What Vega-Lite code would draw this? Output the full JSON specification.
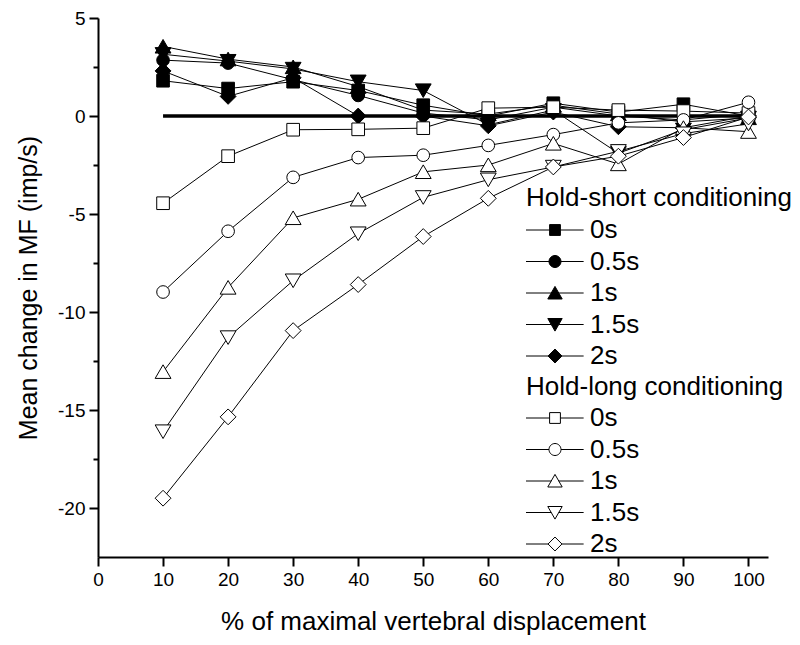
{
  "$schema": "https://vega.github.io/schema/vega-lite/v6.json",
  "width": 670,
  "height": 539,
  "autosize": {"type": "none"},
  "padding": {"left": 98, "top": 18, "right": 32, "bottom": 88},
  "background": "white",
  "config": {
    "view": {"stroke": null},
    "font": "Liberation Sans",
    "axis": {
      "domainColor": "black", "domainWidth": 2, "tickColor": "black", "tickWidth": 2,
      "labelColor": "black", "titleColor": "black", "titleFontWeight": "normal",
      "grid": false, "labelFont": "Liberation Sans", "titleFont": "Liberation Sans"
    },
    "legend": {
      "titleFont": "Liberation Sans", "labelFont": "Liberation Sans",
      "titleFontWeight": "normal", "titleColor": "black", "labelColor": "black",
      "titleFontSize": 26, "labelFontSize": 26, "padding": 0,
      "titleLimit": 500, "labelLimit": 300
    }
  },
  "datasets": {
    "series": [
      {"cond": "Hold-short", "dur": "0s", "x": 10, "y": 1.8},
      {"cond": "Hold-short", "dur": "0s", "x": 20, "y": 1.4},
      {"cond": "Hold-short", "dur": "0s", "x": 30, "y": 1.75},
      {"cond": "Hold-short", "dur": "0s", "x": 40, "y": 1.3},
      {"cond": "Hold-short", "dur": "0s", "x": 50, "y": 0.55},
      {"cond": "Hold-short", "dur": "0s", "x": 60, "y": 0.0},
      {"cond": "Hold-short", "dur": "0s", "x": 70, "y": 0.65},
      {"cond": "Hold-short", "dur": "0s", "x": 80, "y": 0.2},
      {"cond": "Hold-short", "dur": "0s", "x": 90, "y": 0.6},
      {"cond": "Hold-short", "dur": "0s", "x": 100, "y": 0.0},
      {"cond": "Hold-short", "dur": "0.5s", "x": 10, "y": 2.85},
      {"cond": "Hold-short", "dur": "0.5s", "x": 20, "y": 2.7},
      {"cond": "Hold-short", "dur": "0.5s", "x": 30, "y": 1.85},
      {"cond": "Hold-short", "dur": "0.5s", "x": 40, "y": 1.05},
      {"cond": "Hold-short", "dur": "0.5s", "x": 50, "y": 0.15},
      {"cond": "Hold-short", "dur": "0.5s", "x": 60, "y": -0.2},
      {"cond": "Hold-short", "dur": "0.5s", "x": 70, "y": 0.45},
      {"cond": "Hold-short", "dur": "0.5s", "x": 80, "y": 0.0},
      {"cond": "Hold-short", "dur": "0.5s", "x": 90, "y": -0.2},
      {"cond": "Hold-short", "dur": "0.5s", "x": 100, "y": 0.1},
      {"cond": "Hold-short", "dur": "1s", "x": 10, "y": 3.55},
      {"cond": "Hold-short", "dur": "1s", "x": 20, "y": 2.9},
      {"cond": "Hold-short", "dur": "1s", "x": 30, "y": 2.5},
      {"cond": "Hold-short", "dur": "1s", "x": 40, "y": 1.5},
      {"cond": "Hold-short", "dur": "1s", "x": 50, "y": 0.3},
      {"cond": "Hold-short", "dur": "1s", "x": 60, "y": 0.1},
      {"cond": "Hold-short", "dur": "1s", "x": 70, "y": 0.55},
      {"cond": "Hold-short", "dur": "1s", "x": 80, "y": 0.1},
      {"cond": "Hold-short", "dur": "1s", "x": 90, "y": -0.3},
      {"cond": "Hold-short", "dur": "1s", "x": 100, "y": -0.1},
      {"cond": "Hold-short", "dur": "1.5s", "x": 10, "y": 3.15},
      {"cond": "Hold-short", "dur": "1.5s", "x": 20, "y": 2.8},
      {"cond": "Hold-short", "dur": "1.5s", "x": 30, "y": 2.4},
      {"cond": "Hold-short", "dur": "1.5s", "x": 40, "y": 1.75},
      {"cond": "Hold-short", "dur": "1.5s", "x": 50, "y": 1.3},
      {"cond": "Hold-short", "dur": "1.5s", "x": 60, "y": -0.45},
      {"cond": "Hold-short", "dur": "1.5s", "x": 70, "y": 0.3},
      {"cond": "Hold-short", "dur": "1.5s", "x": 80, "y": -1.9},
      {"cond": "Hold-short", "dur": "1.5s", "x": 90, "y": -0.7},
      {"cond": "Hold-short", "dur": "1.5s", "x": 100, "y": -0.1},
      {"cond": "Hold-short", "dur": "2s", "x": 10, "y": 2.3},
      {"cond": "Hold-short", "dur": "2s", "x": 20, "y": 1.0},
      {"cond": "Hold-short", "dur": "2s", "x": 30, "y": 1.95},
      {"cond": "Hold-short", "dur": "2s", "x": 40, "y": 0.0},
      {"cond": "Hold-short", "dur": "2s", "x": 50, "y": 0.0},
      {"cond": "Hold-short", "dur": "2s", "x": 60, "y": -0.5},
      {"cond": "Hold-short", "dur": "2s", "x": 70, "y": 0.2},
      {"cond": "Hold-short", "dur": "2s", "x": 80, "y": -0.55},
      {"cond": "Hold-short", "dur": "2s", "x": 90, "y": -0.6},
      {"cond": "Hold-short", "dur": "2s", "x": 100, "y": 0.0},
      {"cond": "Hold-long", "dur": "0s", "x": 10, "y": -4.45},
      {"cond": "Hold-long", "dur": "0s", "x": 20, "y": -2.05},
      {"cond": "Hold-long", "dur": "0s", "x": 30, "y": -0.7},
      {"cond": "Hold-long", "dur": "0s", "x": 40, "y": -0.68},
      {"cond": "Hold-long", "dur": "0s", "x": 50, "y": -0.62},
      {"cond": "Hold-long", "dur": "0s", "x": 60, "y": 0.4},
      {"cond": "Hold-long", "dur": "0s", "x": 70, "y": 0.45},
      {"cond": "Hold-long", "dur": "0s", "x": 80, "y": 0.3},
      {"cond": "Hold-long", "dur": "0s", "x": 90, "y": 0.25},
      {"cond": "Hold-long", "dur": "0s", "x": 100, "y": 0.15},
      {"cond": "Hold-long", "dur": "0.5s", "x": 10, "y": -8.98},
      {"cond": "Hold-long", "dur": "0.5s", "x": 20, "y": -5.88},
      {"cond": "Hold-long", "dur": "0.5s", "x": 30, "y": -3.13},
      {"cond": "Hold-long", "dur": "0.5s", "x": 40, "y": -2.12},
      {"cond": "Hold-long", "dur": "0.5s", "x": 50, "y": -2.0},
      {"cond": "Hold-long", "dur": "0.5s", "x": 60, "y": -1.5},
      {"cond": "Hold-long", "dur": "0.5s", "x": 70, "y": -0.95},
      {"cond": "Hold-long", "dur": "0.5s", "x": 80, "y": -0.35},
      {"cond": "Hold-long", "dur": "0.5s", "x": 90, "y": -0.2},
      {"cond": "Hold-long", "dur": "0.5s", "x": 100, "y": 0.7},
      {"cond": "Hold-long", "dur": "1s", "x": 10, "y": -13.05},
      {"cond": "Hold-long", "dur": "1s", "x": 20, "y": -8.75},
      {"cond": "Hold-long", "dur": "1s", "x": 30, "y": -5.2},
      {"cond": "Hold-long", "dur": "1s", "x": 40, "y": -4.25},
      {"cond": "Hold-long", "dur": "1s", "x": 50, "y": -2.85},
      {"cond": "Hold-long", "dur": "1s", "x": 60, "y": -2.5},
      {"cond": "Hold-long", "dur": "1s", "x": 70, "y": -1.4},
      {"cond": "Hold-long", "dur": "1s", "x": 80, "y": -2.45},
      {"cond": "Hold-long", "dur": "1s", "x": 90, "y": -0.6},
      {"cond": "Hold-long", "dur": "1s", "x": 100, "y": -0.8},
      {"cond": "Hold-long", "dur": "1.5s", "x": 10, "y": -16.1},
      {"cond": "Hold-long", "dur": "1.5s", "x": 20, "y": -11.3},
      {"cond": "Hold-long", "dur": "1.5s", "x": 30, "y": -8.4},
      {"cond": "Hold-long", "dur": "1.5s", "x": 40, "y": -6.0},
      {"cond": "Hold-long", "dur": "1.5s", "x": 50, "y": -4.15},
      {"cond": "Hold-long", "dur": "1.5s", "x": 60, "y": -3.25},
      {"cond": "Hold-long", "dur": "1.5s", "x": 70, "y": -2.6},
      {"cond": "Hold-long", "dur": "1.5s", "x": 80, "y": -1.8},
      {"cond": "Hold-long", "dur": "1.5s", "x": 90, "y": -0.9},
      {"cond": "Hold-long", "dur": "1.5s", "x": 100, "y": -0.4},
      {"cond": "Hold-long", "dur": "2s", "x": 10, "y": -19.5},
      {"cond": "Hold-long", "dur": "2s", "x": 20, "y": -15.35},
      {"cond": "Hold-long", "dur": "2s", "x": 30, "y": -10.95},
      {"cond": "Hold-long", "dur": "2s", "x": 40, "y": -8.6},
      {"cond": "Hold-long", "dur": "2s", "x": 50, "y": -6.15},
      {"cond": "Hold-long", "dur": "2s", "x": 60, "y": -4.2},
      {"cond": "Hold-long", "dur": "2s", "x": 70, "y": -2.6},
      {"cond": "Hold-long", "dur": "2s", "x": 80, "y": -2.05},
      {"cond": "Hold-long", "dur": "2s", "x": 90, "y": -1.1},
      {"cond": "Hold-long", "dur": "2s", "x": 100, "y": -0.05}
    ],
    "zeroline": [
      {"x": 10, "y": 0},
      {"x": 100, "y": 0}
    ]
  },
  "encoding": {
    "x": {
      "field": "x", "type": "quantitative",
      "scale": {"domain": [0, 103], "nice": false, "zero": false},
      "axis": {
        "title": "% of maximal vertebral displacement",
        "values": [0, 10, 20, 30, 40, 50, 60, 70, 80, 90, 100],
        "tickSize": 9, "labelFontSize": 19, "labelPadding": 4,
        "titleFontSize": 26, "titlePadding": 19, "labelFlush": false
      }
    },
    "y": {
      "field": "y", "type": "quantitative",
      "scale": {"domain": [-22.5, 5], "nice": false, "zero": false},
      "axis": {
        "title": "Mean change in MF (imp/s)",
        "values": [-20, -17.5, -15, -12.5, -10, -7.5, -5, -2.5, 0, 2.5, 5],
        "tickSize": {"condition": {"test": "datum.value % 5 === 0", "value": 9}, "value": 5},
        "labelExpr": "datum.value % 5 === 0 ? '' + datum.value : ''",
        "labelOverlap": false, "labelFlush": false,
        "labelFontSize": 19, "labelPadding": 4,
        "titleFontSize": 25, "titlePadding": 16
      }
    }
  },
  "layer": [
    {
      "data": {"name": "series"},
      "mark": {"type": "line", "color": "black", "strokeWidth": 1},
      "encoding": {
        "detail": [{"field": "cond"}, {"field": "dur"}]
      }
    },
    {
      "data": {"name": "zeroline"},
      "mark": {"type": "line", "color": "black", "strokeWidth": 3.5},
      "encoding": {}
    },
    {
      "data": {"name": "series"},
      "transform": [{"filter": "datum.cond === 'Hold-short'"}],
      "mark": {"type": "point", "filled": true, "fill": "black", "stroke": "black", "strokeWidth": 1, "opacity": 1, "size": 160},
      "encoding": {
        "shape": {
          "field": "dur", "type": "nominal",
          "scale": {
            "domain": ["0s", "0.5s", "1s", "1.5s", "2s"],
            "range": ["M-1,-1H1V1H-1Z", "circle", "M0,-1.1L1.25,1.05H-1.25Z", "M-1.25,-1.05H1.25L0,1.1Z", "M0,-1.25L1.25,0L0,1.25L-1.25,0Z"]
          },
          "legend": null
        }
      }
    },
    {
      "data": {"name": "series"},
      "transform": [{"filter": "datum.cond === 'Hold-long'"}],
      "mark": {"type": "point", "filled": true, "fill": "white", "stroke": "black", "strokeWidth": 1, "opacity": 1, "size": 160},
      "encoding": {
        "shape": {
          "field": "dur", "type": "nominal",
          "scale": {
            "domain": ["0s", "0.5s", "1s", "1.5s", "2s"],
            "range": ["M-1,-1H1V1H-1Z", "circle", "M0,-1.1L1.25,1.05H-1.25Z", "M-1.25,-1.05H1.25L0,1.1Z", "M0,-1.25L1.25,0L0,1.25L-1.25,0Z"]
          },
          "legend": null
        }
      }
    },
    {
      "data": {"name": "series"},
      "transform": [{"filter": "datum.cond === 'Hold-short'"}],
      "mark": {"type": "point", "filled": true, "fill": "black", "stroke": "black", "strokeWidth": 1, "opacity": 1, "size": 0},
      "encoding": {
        "shape": {
          "field": "dur", "type": "nominal",
          "scale": {
            "domain": ["0s", "0.5s", "1s", "1.5s", "2s"],
            "range": [
              "M-1.083,0H0.883M1.783,0H3.72M0.883,-0.45H1.783V0.45H0.883Z",
              "M-1.083,0H0.833M1.833,0H3.72M0.833,0A0.5,0.5,0,1,1,1.833,0A0.5,0.5,0,1,1,0.833,0Z",
              "M-1.083,0H1.019M1.647,0H3.72M1.333,-0.55L1.933,0.5H0.733Z",
              "M-1.083,0H1.019M1.647,0H3.72M0.733,-0.5H1.933L1.333,0.55Z",
              "M-1.083,0H0.753M1.913,0H3.72M1.333,-0.58L1.913,0L1.333,0.58L0.753,0Z"
            ]
          },
          "legend": {
            "title": "Hold-short conditioning",
            "orient": "none", "legendX": 428, "legendY": 167,
            "symbolSize": 576, "labelOffset": 38, "titlePadding": 6, "rowPadding": 5.5,
            "symbolStrokeWidth": 1
          }
        }
      }
    },
    {
      "data": {"name": "series"},
      "transform": [{"filter": "datum.cond === 'Hold-long'"}],
      "mark": {"type": "point", "filled": true, "fill": "white", "stroke": "black", "strokeWidth": 1, "opacity": 1, "size": 0},
      "encoding": {
        "shape": {
          "field": "dur", "type": "nominal",
          "scale": {
            "domain": ["0s", "0.5s", "1s", "1.5s", "2s"],
            "range": [
              "M-1.083,0H0.883M1.783,0H3.72M0.883,-0.45H1.783V0.45H0.883Z",
              "M-1.083,0H0.833M1.833,0H3.72M0.833,0A0.5,0.5,0,1,1,1.833,0A0.5,0.5,0,1,1,0.833,0Z",
              "M-1.083,0H1.019M1.647,0H3.72M1.333,-0.55L1.933,0.5H0.733Z",
              "M-1.083,0H1.019M1.647,0H3.72M0.733,-0.5H1.933L1.333,0.55Z",
              "M-1.083,0H0.753M1.913,0H3.72M1.333,-0.58L1.913,0L1.333,0.58L0.753,0Z"
            ]
          },
          "legend": {
            "title": "Hold-long conditioning",
            "orient": "none", "legendX": 428, "legendY": 356,
            "symbolSize": 576, "labelOffset": 38, "titlePadding": 5, "rowPadding": 5.5,
            "symbolStrokeWidth": 1
          }
        }
      }
    }
  ],
  "resolve": {"scale": {"shape": "independent"}}
}
